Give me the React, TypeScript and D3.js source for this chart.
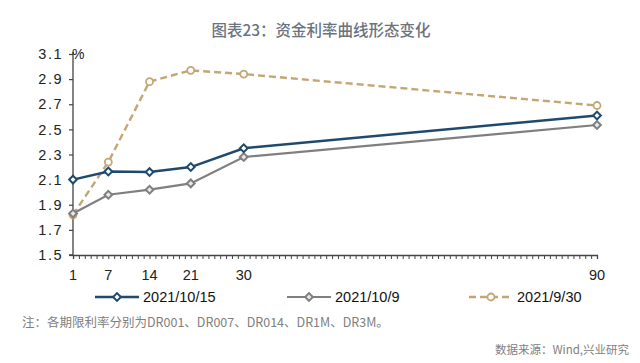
import { useEffect, useRef } from "react";
import * as d3 from "d3";

// 期限（天）
const tenors = [1, 7, 14, 21, 30, 90];
const xTickLabels = ["1", "7", "14", "21", "30", "90"];
const yTicks = [1.5, 1.7, 1.9, 2.1, 2.3, 2.5, 2.7, 2.9, 3.1];

const seriesNames = ["2021/10/15", "2021/10/9", "2021/9/30"];
const rates1015 = [2.1, 2.165, 2.16, 2.2, 2.35, 2.61];
const rates1009 = [1.83, 1.98, 2.02, 2.07, 2.28, 2.535];
const rates0930 = [1.82, 2.24, 2.88, 2.97, 2.94, 2.69];

const FONT = "'Liberation Sans', 'Noto Sans CJK SC', sans-serif";
const CJK = "'Noto Sans CJK SC', sans-serif";

const App = () => {
  const svgRef = useRef<SVGSVGElement>(null);

  useEffect(() => {
    const width = 640;
    const height = 363;
    const margin = { top: 54, right: 43, bottom: 108, left: 73 };

    const svg = d3.select(svgRef.current);
    svg.selectAll("*").remove();
    svg.attr("width", width).attr("height", height).style("background", "#fff");

    const x = d3.scaleLinear().domain([1, 90]).range([margin.left, width - margin.right]);
    const y = d3.scaleLinear().domain([1.5, 3.1]).range([height - margin.bottom, margin.top]);

    // title
    svg.append("text")
      .attr("x", 321).attr("y", 36)
      .attr("text-anchor", "middle")
      .attr("font-family", CJK).attr("font-size", 15.5)
      .attr("font-weight", 500)
      .attr("fill", "#6b7380")
      .text("图表23：资金利率曲线形态变化");

    // y axis
    const yAxis = d3.axisLeft(y).tickValues(yTicks).tickSize(4).tickFormat(d3.format(".1f"));
    const gy = svg.append("g").attr("transform", `translate(${margin.left},0)`).call(yAxis);
    gy.select(".domain").attr("stroke", "#444").attr("stroke-width", 1.3).attr("d", `M-4,${y(1.5)}H0V${y(3.1) - 2}`);
    gy.selectAll(".tick line").attr("stroke", "#444").attr("stroke-width", 1.2);
    gy.selectAll(".tick text")
      .attr("x", -10)
      .attr("font-family", FONT).attr("font-size", 14.5)
      .attr("letter-spacing", 1.5)
      .attr("fill", "#222");

    svg.append("text")
      .attr("x", margin.left - 1).attr("y", y(3.1) + 5)
      .attr("font-family", FONT).attr("font-size", 14)
      .attr("fill", "#222")
      .text("%");

    // x axis: minor ticks at each day
    const xAxis = d3.axisBottom(x).tickValues(d3.range(1, 91)).tickSize(4).tickFormat(() => "");
    const gx = svg.append("g").attr("transform", `translate(0,${y(1.5)})`).call(xAxis);
    gx.select(".domain").attr("stroke", "#444").attr("stroke-width", 1.3);
    gx.selectAll(".tick line").attr("stroke", "#444").attr("stroke-width", 1);

    svg.append("g").selectAll("text")
      .data(tenors)
      .join("text")
      .attr("x", (d) => x(d))
      .attr("y", y(1.5) + 25)
      .attr("text-anchor", "middle")
      .attr("font-family", FONT).attr("font-size", 14.5)
      .attr("fill", "#222")
      .text((_, i) => xTickLabels[i]);

    const line = d3.line<number>().x((_, i) => x(tenors[i])).y((d) => y(d));
    const diamond = d3.symbol().type(d3.symbolSquare).size(30);

    const series = [
      { name: seriesNames[0], values: rates1015, color: "#1f4a6e", width: 2.5, dash: null, marker: "diamond", fill: "#fff" },
      { name: seriesNames[1], values: rates1009, color: "#7f7f7f", width: 2.2, dash: null, marker: "diamond", fill: "#e8e8e8" },
      { name: seriesNames[2], values: rates0930, color: "#c4a672", width: 2.4, dash: "7,4", marker: "circle", fill: "#fff" },
    ];

    // draw back to front
    [...series].reverse().forEach((s) => {
      const g = svg.append("g");
      g.append("path")
        .datum(s.values)
        .attr("d", line)
        .attr("fill", "none")
        .attr("stroke", s.color)
        .attr("stroke-width", s.width)
        .attr("stroke-dasharray", s.dash);
      if (s.marker === "diamond") {
        g.selectAll("path.m")
          .data(s.values)
          .join("path")
          .attr("class", "m")
          .attr("d", diamond)
          .attr("transform", (d, i) => `translate(${x(tenors[i])},${y(d)}) rotate(45)`)
          .attr("fill", s.fill).attr("stroke", s.color).attr("stroke-width", 2);
      } else {
        g.selectAll("circle")
          .data(s.values)
          .join("circle")
          .attr("cx", (_, i) => x(tenors[i]))
          .attr("cy", (d) => y(d))
          .attr("r", 3.5)
          .attr("fill", s.fill).attr("stroke", s.color).attr("stroke-width", 1.8);
      }
    });

    // legend
    const legendX = [95, 287, 469];
    const legendY = 297;
    series.forEach((s, i) => {
      const g = svg.append("g").attr("transform", `translate(${legendX[i]},${legendY})`);
      g.append("line")
        .attr("x1", 0).attr("x2", 44)
        .attr("stroke", s.color).attr("stroke-width", s.width)
        .attr("stroke-dasharray", s.dash);
      if (s.marker === "diamond") {
        g.append("path").attr("d", diamond).attr("transform", "translate(22,0) rotate(45)")
          .attr("fill", s.fill).attr("stroke", s.color).attr("stroke-width", 2);
      } else {
        g.append("circle").attr("cx", 22).attr("r", 3.5)
          .attr("fill", s.fill).attr("stroke", s.color).attr("stroke-width", 1.8);
      }
      g.append("text")
        .attr("x", 48).attr("y", 5)
        .attr("font-family", FONT).attr("font-size", 14.5)
        .attr("fill", "#111")
        .text(s.name);
    });

    svg.append("text")
      .attr("x", 22).attr("y", 327)
      .attr("font-family", CJK).attr("font-size", 12.5)
      .attr("fill", "#808080")
      .text("注：各期限利率分别为DR001、DR007、DR014、DR1M、DR3M。");

    svg.append("text")
      .attr("x", 629).attr("y", 354)
      .attr("text-anchor", "end")
      .attr("font-family", CJK).attr("font-size", 11.5)
      .attr("fill", "#808080")
      .text("数据来源：Wind,兴业研究");
  }, []);

  return <svg ref={svgRef} style={{ position: "absolute", left: 0, top: 0 }} />;
};

export default App;
